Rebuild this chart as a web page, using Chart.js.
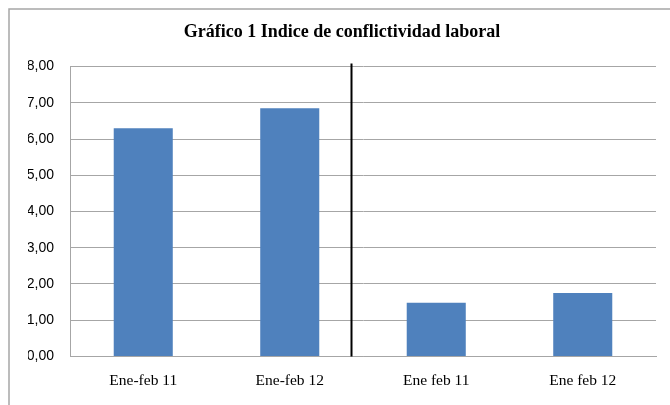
<!DOCTYPE html>
<html>
<head>
<meta charset="utf-8">
<script src="https://cdn.jsdelivr.net/npm/chart.js@4/dist/chart.umd.min.js"></script>
<style>
  html, body { margin: 0; padding: 0; background: #ffffff; }
  canvas { display: block; }
</style>
</head>
<body>
<canvas id="c" width="670" height="405"></canvas>
<script>
// ---- Data ----
const titleText = "Gráfico 1 Indice de conflictividad laboral";
const categories = ["Ene-feb 11", "Ene-feb 12", "Ene feb 11", "Ene feb 12"];
const values = [6.30, 6.85, 1.48, 1.75];
const yMin = 0;
const yMax = 8;
const yStep = 1;
const separatorAt = 1.418; // position of the divider line on the category axis

// ---- Plugins ----
const framePlugin = {
  id: 'frame',
  beforeDraw(chart) {
    const ctx = chart.ctx;
    ctx.save();
    ctx.fillStyle = '#ffffff';
    ctx.fillRect(0, 0, chart.width, chart.height);
    ctx.strokeStyle = '#a6a6a6';
    ctx.lineWidth = 1.5;
    ctx.strokeRect(9, 9, chart.width + 20, chart.height + 20);
    ctx.restore();
  }
};

const separatorPlugin = {
  id: 'separator',
  afterDatasetsDraw(chart) {
    const x = Math.round(chart.scales.x.getPixelForValue(separatorAt)) + 0.5;
    const yTop = chart.chartArea.top - 3;
    const yBot = chart.scales.y.getPixelForValue(yMin);
    const ctx = chart.ctx;
    ctx.save();
    ctx.strokeStyle = '#000000';
    ctx.lineWidth = 2;
    ctx.beginPath();
    ctx.moveTo(x, yTop);
    ctx.lineTo(x, yBot);
    ctx.stroke();
    ctx.restore();
  }
};

new Chart(document.getElementById('c'), {
  type: 'bar',
  data: {
    labels: categories,
    datasets: [{
      data: values,
      backgroundColor: '#4F81BD',
      borderWidth: 0,
      categoryPercentage: 1.0,
      barPercentage: 0.403
    }]
  },
  options: {
    responsive: false,
    animation: false,
    devicePixelRatio: 1,
    layout: { padding: { left: 28, right: 14, top: 0, bottom: 0 } },
    plugins: {
      legend: { display: false },
      tooltip: { enabled: false },
      title: {
        display: true,
        text: titleText,
        color: '#000000',
        font: { family: 'Liberation Serif', size: 18, weight: 'bold' },
        padding: { top: 22, bottom: 23 }
      }
    },
    scales: {
      x: {
        grid: { display: false, drawTicks: false },
        border: { display: true, color: '#a6a6a6', width: 1 },
        ticks: {
          color: '#000000',
          font: { family: 'Liberation Serif', size: 15.5 },
          padding: 15,
          maxRotation: 0
        }
      },
      y: {
        min: yMin,
        max: yMax,
        afterFit(scale) { scale.width = 42; },
        grid: { color: '#a6a6a6', lineWidth: 1, drawTicks: false },
        border: { display: true, color: '#a6a6a6', width: 1 },
        ticks: {
          stepSize: yStep,
          color: '#000000',
          font: { family: 'Liberation Sans', size: 14 },
          padding: 16,
          callback: (v) => Number(v).toFixed(2).replace('.', ',')
        }
      }
    }
  },
  plugins: [framePlugin, separatorPlugin]
});
</script>
</body>
</html>
